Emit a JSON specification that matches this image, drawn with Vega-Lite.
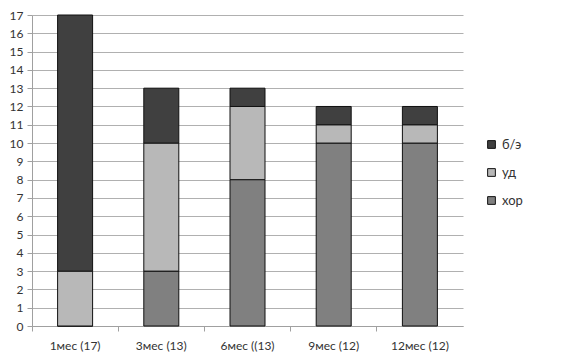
{
  "$schema": "https://vega.github.io/schema/vega-lite/v6.json",
  "autosize": {"type": "none"},
  "padding": {"left": 32, "top": 15, "right": 106, "bottom": 35},
  "width": 431,
  "height": 311,
  "background": "white",
  "data": {"values": [
    {"period": "1мес (17)", "group": "хор", "ord": 1, "n": 0},
    {"period": "1мес (17)", "group": "уд", "ord": 2, "n": 3},
    {"period": "1мес (17)", "group": "б/э", "ord": 3, "n": 14},
    {"period": "3мес (13)", "group": "хор", "ord": 1, "n": 3},
    {"period": "3мес (13)", "group": "уд", "ord": 2, "n": 7},
    {"period": "3мес (13)", "group": "б/э", "ord": 3, "n": 3},
    {"period": "6мес ((13)", "group": "хор", "ord": 1, "n": 8},
    {"period": "6мес ((13)", "group": "уд", "ord": 2, "n": 4},
    {"period": "6мес ((13)", "group": "б/э", "ord": 3, "n": 1},
    {"period": "9мес (12)", "group": "хор", "ord": 1, "n": 10},
    {"period": "9мес (12)", "group": "уд", "ord": 2, "n": 1},
    {"period": "9мес (12)", "group": "б/э", "ord": 3, "n": 1},
    {"period": "12мес (12)", "group": "хор", "ord": 1, "n": 10},
    {"period": "12мес (12)", "group": "уд", "ord": 2, "n": 1},
    {"period": "12мес (12)", "group": "б/э", "ord": 3, "n": 1}
  ]},
  "mark": {"type": "bar", "size": 35, "stroke": "#111111", "strokeWidth": 1},
  "encoding": {
    "x": {
      "field": "period", "type": "nominal", "sort": null,
      "scale": {"paddingInner": 0, "paddingOuter": 0},
      "axis": {"title": null, "labelAngle": 0, "bandPosition": 0, "ticks": true, "tickSize": 5,
               "tickColor": "#a0a0a0", "domainColor": "#a0a0a0", "labelPadding": 9,
               "labelFont": "Lato", "labelFontSize": 12, "labelColor": "#333333"}
    },
    "y": {
      "field": "n", "type": "quantitative", "stack": "zero",
      "scale": {"domain": [0, 17], "nice": false},
      "axis": {"title": null, "values": [0,1,2,3,4,5,6,7,8,9,10,11,12,13,14,15,16,17],
               "grid": true, "gridColor": "#b0b0b0", "tickSize": 5, "tickColor": "#a0a0a0",
               "domainColor": "#a0a0a0", "labelPadding": 4,
               "labelFont": "Lato", "labelFontSize": 12, "labelColor": "#333333"}
    },
    "color": {
      "field": "group", "type": "nominal",
      "scale": {"domain": ["б/э", "уд", "хор"], "range": ["#404040", "#b8b8b8", "#808080"]},
      "legend": {"title": null, "orient": "none", "legendX": 453, "legendY": 123,
                 "symbolType": "square", "symbolSize": 60, "symbolStrokeColor": "#111111",
                 "symbolStrokeWidth": 1, "rowPadding": 14,
                 "labelFont": "Lato", "labelFontSize": 13, "labelColor": "#333333"}
    },
    "order": {"field": "ord", "type": "quantitative"}
  },
  "config": {"view": {"stroke": null}}
}
